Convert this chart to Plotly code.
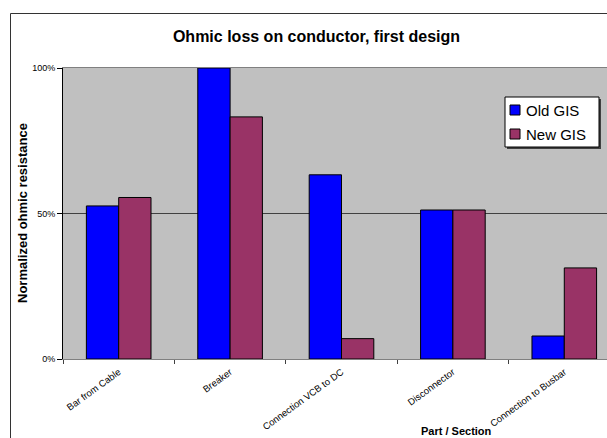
import plotly.graph_objects as go

# Normalized ohmic resistance per part, first design
categories = ["Bar from Cable", "Breaker", "Connection VCB to DC", "Disconnector", "Connection to Busbar"]
old_gis = [0.526, 1.00, 0.633, 0.512, 0.079]
new_gis = [0.555, 0.832, 0.070, 0.512, 0.313]
y_ticks = [0, 0.5, 1.0]
y_tick_labels = ["0%", "50%", "100%"]

series = [("Old GIS", old_gis, "#0000FF"), ("New GIS", new_gis, "#993366")]

W, H = 607, 438
L, T, B = 63, 68, 79
plot_w = W - L
plot_h = H - T - B

def px_x(p):
    return (p - L) / plot_w

def px_y(p):
    return (H - B - p) / plot_h

fig = go.Figure()
for name, vals, color in series:
    fig.add_trace(go.Bar(name=name, x=categories, y=vals,
                         marker=dict(color=color, line=dict(color="#000000", width=1))))

# outer chart frame (extends past the right and bottom edges)
fig.add_shape(type="rect", xref="paper", yref="paper",
              x0=px_x(10.5), x1=px_x(640), y0=px_y(460), y1=px_y(13.5),
              line=dict(color="#333333", width=1), fillcolor="rgba(0,0,0,0)", layer="above")

# legend box with drop shadow
lx0, lx1, ly0, ly1 = 505, 599, 97, 147
fig.add_shape(type="rect", xref="paper", yref="paper",
              x0=px_x(lx0 + 2), x1=px_x(lx1 + 2), y0=px_y(ly1 + 2), y1=px_y(ly0 + 2),
              line=dict(width=0), fillcolor="#404040", layer="above")
fig.add_shape(type="rect", xref="paper", yref="paper",
              x0=px_x(lx0), x1=px_x(lx1), y0=px_y(ly1), y1=px_y(ly0),
              line=dict(color="black", width=1), fillcolor="white", layer="above")
for i, (name, _, color) in enumerate(series):
    cy = 110 + 24 * i
    fig.add_shape(type="rect", xref="paper", yref="paper",
                  x0=px_x(510), x1=px_x(520), y0=px_y(cy + 5), y1=px_y(cy - 5),
                  line=dict(color="black", width=1), fillcolor=color, layer="above")
    fig.add_annotation(text=name, xref="paper", yref="paper",
                       x=px_x(524), y=px_y(cy), xanchor="left", yanchor="middle",
                       showarrow=False, font=dict(size=15))

fig.update_layout(
    width=W, height=H,
    margin=dict(l=L, r=0, t=T, b=B),
    paper_bgcolor="white",
    plot_bgcolor="#C0C0C0",
    barmode="group",
    bargap=0.42,
    bargroupgap=0,
    showlegend=False,
    font=dict(family="Liberation Sans, Arial, sans-serif", color="black"),
    title=dict(text="<b>Ohmic loss on conductor, first design</b>",
               x=316.5 / W, xref="container", xanchor="center",
               y=1 - 36 / H, yref="container", yanchor="middle",
               font=dict(size=16)),
    xaxis=dict(
        type="category",
        range=[-0.5, 4.5 - (620 - W) / 111.5],
        tickson="boundaries",
        ticks="outside", ticklen=4, tickcolor="#404040",
        tickangle=-36,
        ticklabelstandoff=3,
        tickfont=dict(size=9.5),
        showline=True, linecolor="#808080", linewidth=1, mirror=True,
        showgrid=False,
    ),
    yaxis=dict(
        range=[0, 1.0],
        tickvals=y_ticks, ticktext=y_tick_labels,
        ticks="outside", ticklen=5, tickcolor="black",
        tickfont=dict(size=9),
        showline=True, linecolor="black", linewidth=1,
        showgrid=True, gridcolor="#404040", gridwidth=1,
        zeroline=False,
    ),
)

fig.add_annotation(text="<b>Normalized ohmic resistance</b>", xref="paper", yref="paper",
                   x=px_x(22), y=px_y(213), textangle=-90, showarrow=False,
                   font=dict(size=13), xanchor="center", yanchor="middle")

fig.add_annotation(text="<b>Part / Section</b>", xref="paper", yref="paper",
                   x=px_x(456), y=px_y(431), showarrow=False,
                   font=dict(size=11), xanchor="center", yanchor="middle")

fig.write_html("out.html")
